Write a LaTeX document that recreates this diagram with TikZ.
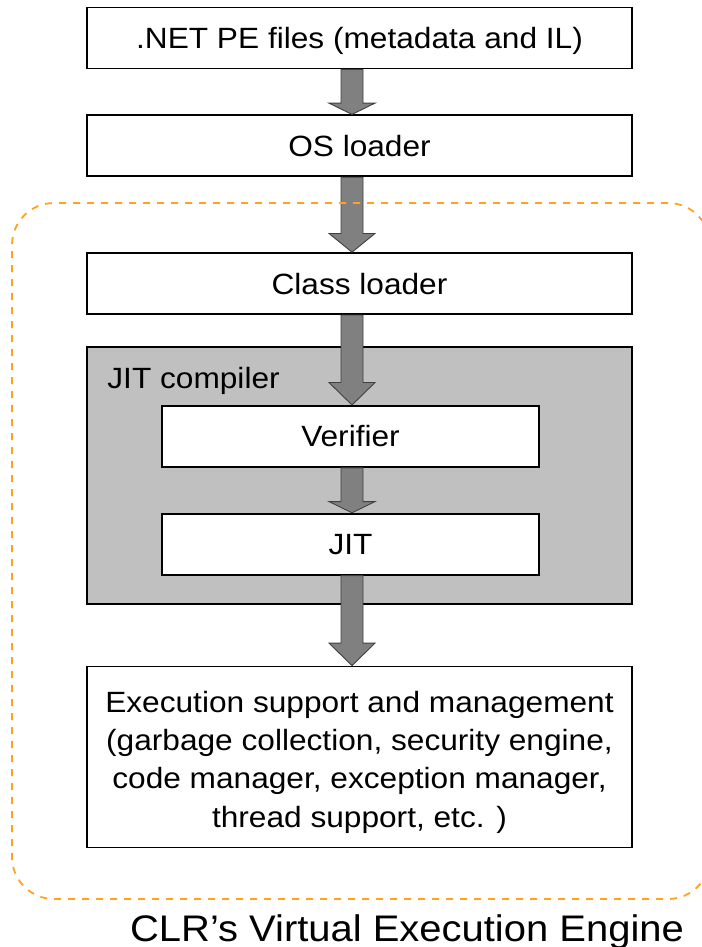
\documentclass[tikz,border=0pt]{standalone}
\usepackage{fontspec}
\setmainfont{Liberation Sans}[FakeStretch=1.08]
\usetikzlibrary{positioning,calc}

\definecolor{shaftgray}{RGB}{128,128,128}
\definecolor{panelgray}{RGB}{192,192,192}
\definecolor{veeorange}{RGB}{255,162,30}

% block arrow from the bottom of #1 to the top of #2, on the axis
\newcommand{\flowarrow}[2]{%
  \path (#1.south -| axis) coordinate (fs) (#2.north -| axis) coordinate (ft)
        ($(fs)!0.75!(ft)$) coordinate (fh);
  \draw[blockarrow] ([xshift=-11pt]fs) -- ([xshift=-11pt]fh) -- ([xshift=-23pt]fh)
        -- (ft) -- ([xshift=23pt]fh) -- ([xshift=11pt]fh) -- ([xshift=11pt]fs) -- cycle;}

\begin{document}
\begin{tikzpicture}[x=1pt,y=-1pt,semithick,
    boxfont/.style={font=\fontsize{29.3}{38.3}\selectfont},
    box/.style={draw=black,line width=1.8pt,fill=white,inner sep=0pt,
                minimum width=545pt,minimum height=61pt,
                text height=21pt,text depth=0pt,boxfont},
    smallbox/.style={box,minimum width=377pt},
    panel/.style={draw=black,line width=1.8pt,fill=panelgray,inner sep=0pt,
                  minimum width=545pt,minimum height=257pt},
    blockarrow/.style={draw=black!75,line width=0.9pt,fill=shaftgray},
    veeframe/.style={draw=veeorange,line width=1.8pt,dash pattern=on 7pt off 7pt,
                     rounded corners=42pt,inner sep=0pt,
                     minimum width=698pt,minimum height=696pt}]
  \useasboundingbox (0,0) rectangle (701,947);
  \coordinate (axis) at (352,0);

  \node[box] (pe) at (359.5,38) {.NET PE files (metadata and IL)};
  \node[box,below=45pt of pe]  (os)  {OS loader};
  \node[box,below=75pt of os]  (cls) {Class loader};
  \node[panel,below=31pt of cls] (jitc) {};
  \node[anchor=base west,inner sep=0pt,boxfont]
       (jitlabel) at ([shift={(21,42)}]jitc.north west) {JIT compiler};
  \node[smallbox,below=90pt of cls,xshift=-9pt] (ver) {Verifier};
  \node[smallbox,below=45pt of ver] (jit) {JIT};
  \node[box,below=90pt of jit,xshift=9pt,minimum height=181pt] (exec) {};
  \node[align=center,inner sep=0pt,boxfont] (exectext) at ($(exec.center)+(0,5)$)
       {Execution support and management\\(garbage collection, security engine,\\
        code manager, exception manager,\\thread support, etc. )};

  \flowarrow{pe}{os}
  \flowarrow{os}{cls}
  \flowarrow{cls}{ver}
  \flowarrow{ver}{jit}
  \flowarrow{jit}{exec}

  \node[veeframe] (vee) at (361,551) {};
  \node[anchor=base,inner sep=0pt,font=\fontsize{37}{44}\selectfont]
       (caption) at (407,941) {CLR’s Virtual Execution Engine};
\end{tikzpicture}
\end{document}
